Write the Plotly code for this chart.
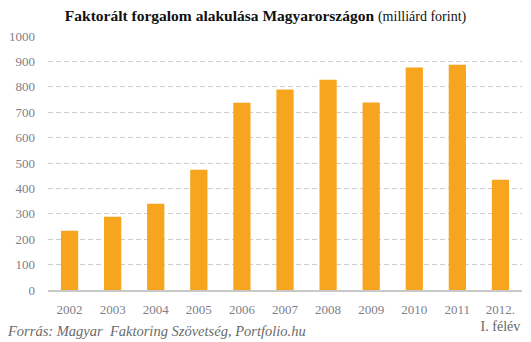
import plotly.graph_objects as go

# Factored turnover in Hungary, billion HUF
years = ["2002", "2003", "2004", "2005", "2006", "2007", "2008", "2009", "2010", "2011",
         "2012.<br><span style='font-size:14px;color:#666666'>I. félév</span>"]
turnover = [233, 288, 340, 473, 737, 789, 828, 738, 876, 887, 434]
y_ticks = [0, 100, 200, 300, 400, 500, 600, 700, 800, 900, 1000]

W, H = 531, 342
ML, MR, MT, MB = 48, 9, 36, 52
SERIF = "Liberation Serif, DejaVu Serif, serif"

fig = go.Figure(
    go.Bar(
        x=years,
        y=turnover,
        marker=dict(color="#F7A51E", line=dict(width=0)),
        hoverinfo="y",
    )
)

fig.update_layout(
    width=W,
    height=H,
    margin=dict(l=ML, r=MR, t=MT, b=MB),
    plot_bgcolor="white",
    paper_bgcolor="white",
    bargap=0.6,
    showlegend=False,
    font=dict(family=SERIF, color="#7a7a7a"),
    title=dict(
        text="<b>Faktorált forgalom alakulása Magyarországon</b>"
             " <span style='font-size:14px'>(milliárd forint)</span>",
        x=0.5,
        xanchor="center",
        y=1 - 16 / H,
        yanchor="middle",
        font=dict(family=SERIF, size=15.5, color="#111111"),
    ),
)

fig.update_yaxes(
    range=[0, 1000],
    tickvals=y_ticks,
    ticktext=[str(v) for v in y_ticks],
    tickfont=dict(family=SERIF, size=13, color="#808088"),
    showgrid=True,
    gridcolor="#cccccc",
    gridwidth=1,
    griddash="5px,3px",
    zeroline=False,
    showline=False,
    ticks="",
    ticklabelstandoff=12,
    fixedrange=True,
)

fig.update_xaxes(
    tickfont=dict(family=SERIF, size=13, color="#808088"),
    showgrid=False,
    showline=True,
    linecolor="#c8c8c8",
    linewidth=2,
    ticks="",
    ticklabelstandoff=6,
    fixedrange=True,
)

fig.add_annotation(
    text="<i>Forrás: Magyar  Faktoring Szövetség, Portfolio.hu</i>",
    xref="paper",
    yref="paper",
    x=(5 - ML) / (W - ML - MR),
    y=-(331 - (H - MB)) / (H - MT - MB),
    xanchor="left",
    yanchor="middle",
    showarrow=False,
    font=dict(family=SERIF, size=14.5, color="#6a6a6a"),
)

fig.write_html("out.html")
